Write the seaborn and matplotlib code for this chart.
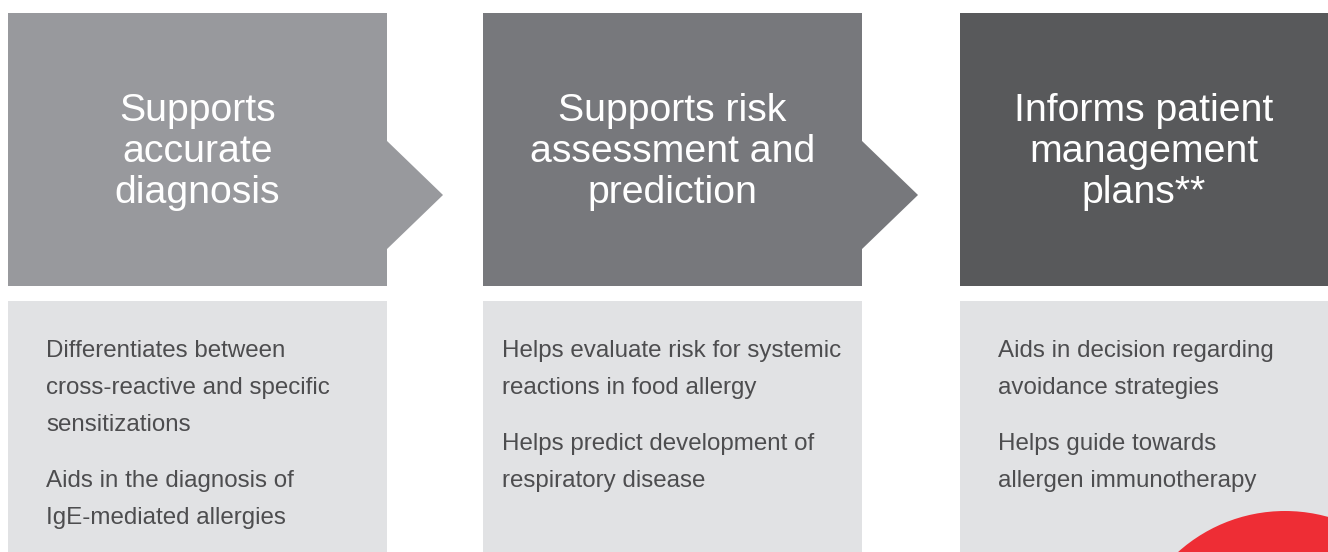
import matplotlib
matplotlib.use("Agg")
import matplotlib.pyplot as plt
import seaborn as sns
from matplotlib.patches import Rectangle, Polygon, Circle

sns.set_theme(style="white")
plt.rcParams["font.family"] = ["Liberation Sans", "DejaVu Sans"]

# content
titles = [
    ["Supports", "accurate", "diagnosis"],
    ["Supports risk", "assessment and", "prediction"],
    ["Informs patient", "management", "plans**"],
]
bullets = [
    [["Differentiates between", "cross-reactive and specific", "sensitizations"],
     ["Aids in the diagnosis of", "IgE-mediated allergies"]],
    [["Helps evaluate risk for systemic", "reactions in food allergy"],
     ["Helps predict development of", "respiratory disease"]],
    [["Aids in decision regarding", "avoidance strategies"],
     ["Helps guide towards", "allergen immunotherapy"]],
]
header_colors = ["#98999d", "#77787c", "#58595b"]
panel_color = "#e1e2e4"
text_color = "#4d4d4f"
accent = "#ee2d35"

# layout (pixels)
W, H = 1328, 552
col_x = [8, 483, 960]
col_w = [379, 379, 368]
text_pad = [38, 19, 38]

fig = plt.figure(figsize=(W / 100, H / 100), dpi=100)
ax = fig.add_axes([0, 0, 1, 1])
ax.set_xlim(0, W)
ax.set_ylim(H, 0)
ax.axis("off")

for i in range(3):
    x0, w = col_x[i], col_w[i]
    ax.add_patch(Rectangle((x0, 13), w, 273, color=header_colors[i], lw=0))
    if i < 2:
        ax.add_patch(Polygon([(x0 + w - 1, 140), (x0 + w + 56, 195), (x0 + w - 1, 250)],
                             closed=True, color=header_colors[i], lw=0))
    ax.add_patch(Rectangle((x0, 301), w, H - 301, color=panel_color, lw=0))

    cx = x0 + w / 2
    for j, line in enumerate(titles[i]):
        ax.text(cx, 121 + j * 41, line, color="white", fontsize=28.3,
                ha="center", va="baseline")

    y = 357
    for para in bullets[i]:
        for line in para:
            ax.text(x0 + text_pad[i], y, line, color=text_color, fontsize=17.4,
                    ha="left", va="baseline")
            y += 37
        y += 19

# red accent circle in the last panel
circ = Circle((1285, 671), 160, color=accent, lw=0)
ax.add_patch(circ)

fig.savefig("out.png", dpi=100)
